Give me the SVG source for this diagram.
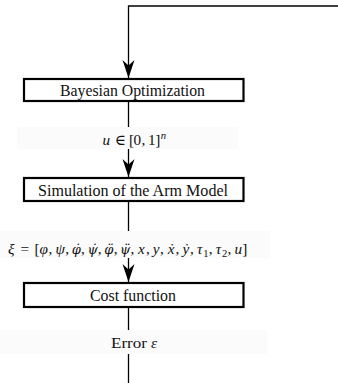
<svg xmlns="http://www.w3.org/2000/svg" width="338" height="383" viewBox="0 0 338 383">
<style>
.box{fill:#fff;stroke:#000;stroke-width:2.2}
.t{font-family:"Liberation Serif","DejaVu Serif",serif;font-size:15.2px;fill:#111;text-anchor:middle}
.b{font-size:16px}
.m{font-style:italic}
.d{font-family:"DejaVu Serif",serif;font-size:13px;font-style:italic}
.s{font-size:10.6px}
.ln{stroke:#000;stroke-width:1.3;fill:none}
.bg{fill:#fafbfa}
</style>
<defs>
<marker id="ah" markerUnits="userSpaceOnUse" markerWidth="20" markerHeight="14" viewBox="-19 -7 20 14" refX="0" refY="0" orient="auto">
<path d="M0,0 L-18,-6 L-12.5,0 L-18,6 Z" fill="#000"/>
</marker>
</defs>
<rect class="bg" x="17" y="127" width="221" height="22"/>
<rect class="bg" x="0" y="231" width="270" height="27"/>
<rect class="bg" x="0" y="330" width="267" height="24"/>
<g id="connectors">
<path class="ln" d="M338,6 H128.5 V78" marker-end="url(#ah)"/>
<path class="ln" d="M128.5,101 V127"/>
<path class="ln" d="M128.5,149 V177" marker-end="url(#ah)"/>
<path class="ln" d="M128.5,201 V231"/>
<path class="ln" d="M128.5,258 V282" marker-end="url(#ah)"/>
<path class="ln" d="M128.5,307 V330"/>
<path class="ln" d="M128.5,354 V383"/>
</g>
<g id="bayes">
<rect class="box" x="24" y="79" width="219.5" height="22"/>
<text class="t b" x="132.5" y="95.7" textLength="145" lengthAdjust="spacingAndGlyphs">Bayesian Optimization</text>
</g>
<g id="u-label">
<text class="t" y="145"><tspan class="m" x="106.4">u</tspan><tspan x="120">∈</tspan><tspan x="131.5">[</tspan><tspan x="137.4">0</tspan><tspan x="143.3">,</tspan><tspan x="151.8">1</tspan><tspan x="157.7">]</tspan><tspan class="m s" x="163.4" y="139">n</tspan></text>
</g>
<g id="sim">
<rect class="box" x="24" y="178" width="219.5" height="23"/>
<text class="t b" x="133" y="195.7" textLength="190" lengthAdjust="spacingAndGlyphs">Simulation of the Arm Model</text>
</g>
<g id="xi-label">
<text class="t" y="254"><tspan class="m" x="11.3">ξ</tspan><tspan x="24.8">=</tspan><tspan x="37.1">[</tspan><tspan class="m" x="43.8">φ</tspan><tspan x="50.4">,</tspan><tspan class="m" x="60.1">ψ</tspan><tspan x="67.1">,</tspan><tspan class="d" x="76.4">φ̇</tspan><tspan x="83">,</tspan><tspan class="d" x="92.6">ψ̇</tspan><tspan x="99.7">,</tspan><tspan class="d" x="108.9">φ̈</tspan><tspan x="115.6">,</tspan><tspan class="d" x="125.2">ψ̈</tspan><tspan x="132.3">,</tspan><tspan class="m" x="141.3">x</tspan><tspan x="147.8">,</tspan><tspan class="m" x="156.2">y</tspan><tspan x="162">,</tspan><tspan class="m" x="171.1">ẋ</tspan><tspan x="177.5">,</tspan><tspan class="m" x="185.9">ẏ</tspan><tspan x="191.8">,</tspan><tspan class="m" x="199.7">τ</tspan><tspan class="s" x="205.8" y="256.5">1</tspan><tspan x="210.6" y="254">,</tspan><tspan class="m" x="218.5">τ</tspan><tspan class="s" x="224.6" y="256.5">2</tspan><tspan x="229.3" y="254">,</tspan><tspan class="m" x="238.4">u</tspan><tspan x="244.8">]</tspan></text>
</g>
<g id="cost">
<rect class="box" x="24" y="283" width="219.5" height="24"/>
<text class="t b" x="133" y="300.5" textLength="86" lengthAdjust="spacingAndGlyphs">Cost function</text>
</g>
<g id="error-label">
<text class="t" y="348"><tspan x="129" textLength="36" lengthAdjust="spacingAndGlyphs">Error</tspan><tspan class="m" x="154">ε</tspan></text>
</g>
</svg>
